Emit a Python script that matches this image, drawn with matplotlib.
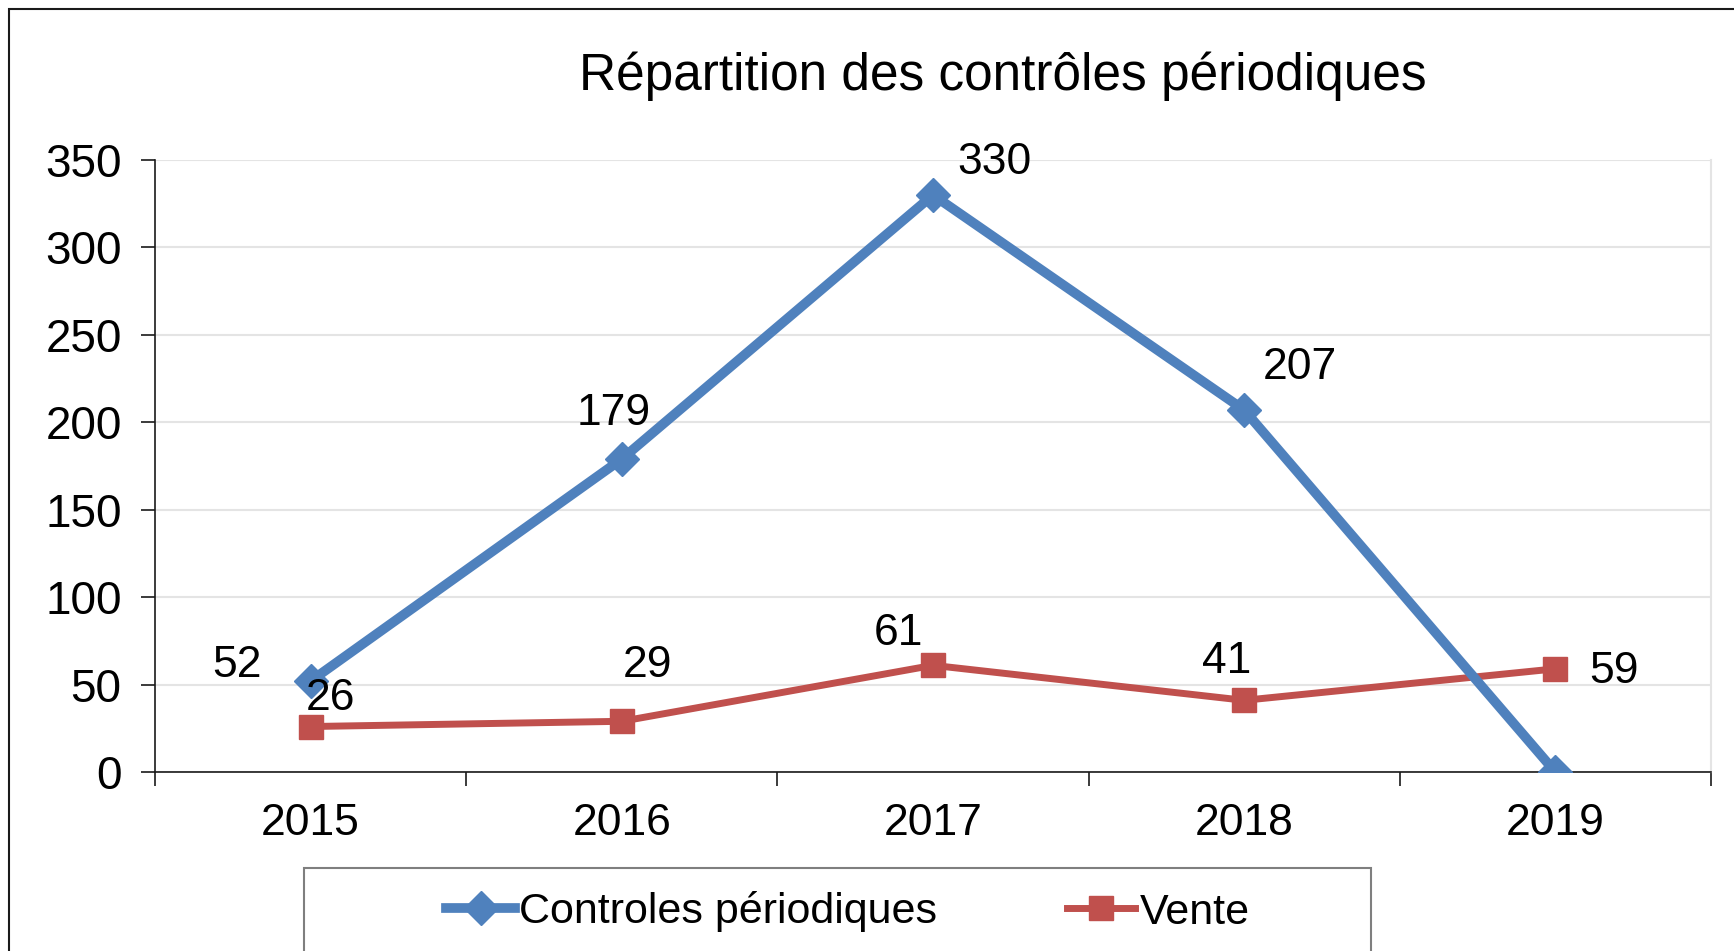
import matplotlib
matplotlib.use("Agg")
import matplotlib.pyplot as plt
from matplotlib.patches import Rectangle
from matplotlib.lines import Line2D

plt.rcParams['font.family'] = ['Liberation Sans', 'DejaVu Sans']

years = ["2015", "2016", "2017", "2018", "2019"]
controles = [52, 179, 330, 207, 0]
vente = [26, 29, 61, 41, 59]
yticks = [0, 50, 100, 150, 200, 250, 300, 350]

# label offsets (pixels) relative to each point; None = no label
controles_offsets = [(-74, 16), (-8, 46), (61, 32), (56, 43), None]
vente_offsets = [(20, 28), (26, 56), (-35, 32), (-18, 39), (59, -3)]

BLUE = "#4F81BD"
RED = "#C0504D"

W, H = 1734, 951
fig = plt.figure(figsize=(W / 100, H / 100), dpi=100)

# outer chart border (left and top edges visible)
fig.patches.append(Rectangle((9 / W, -0.1), 1.2, 1 - 9 / H + 0.1,
                             transform=fig.transFigure, fill=False,
                             edgecolor="#1a1a1a", linewidth=1.5))

ax = fig.add_axes([155 / W, 1 - 772 / H, (1711 - 155) / W, (772 - 160) / H])
x = list(range(len(years)))

ax.plot(x, controles, color=BLUE, linewidth=7, marker="D", markersize=17.5,
        solid_joinstyle="round", solid_capstyle="round", zorder=4,
        label="Controles périodiques")
ax.plot(x, vente, color=RED, linewidth=5, marker="s", markersize=17,
        zorder=3, label="Vente")

for xi, v, off in zip(x, controles, controles_offsets):
    if off is not None:
        ax.annotate(str(v), (xi, v), xytext=off, textcoords="offset pixels",
                    ha="center", va="center", fontsize=32, zorder=5)
for xi, v, off in zip(x, vente, vente_offsets):
    if off is not None:
        ax.annotate(str(v), (xi, v), xytext=off, textcoords="offset pixels",
                    ha="center", va="center", fontsize=32, zorder=5)

ax.set_xlim(-0.5, len(years) - 0.5)
ax.set_ylim(0, 350)
ax.set_yticks(yticks)
ax.set_yticklabels([str(t) for t in yticks], fontsize=33)
ax.set_xticks(x)
ax.set_xticklabels(years, fontsize=32)
ax.set_xticks([i - 0.5 for i in range(len(years) + 1)], minor=True)
ax.tick_params(axis="x", which="major", length=0, pad=22)
ax.tick_params(axis="x", which="minor", length=10, width=1.2, direction="out", color="#1a1a1a")
ax.tick_params(axis="y", length=10, width=1.2, direction="out", pad=14, color="#1a1a1a")

ax.grid(axis="y", color="#E4E4E4", linewidth=1.5)
ax.set_axisbelow(True)
ax.spines["top"].set_visible(False)
ax.spines["right"].set_color("#E4E4E4")
ax.spines["right"].set_linewidth(1.5)
ax.spines["left"].set_color("#1a1a1a")
ax.spines["bottom"].set_color("#1a1a1a")
ax.spines["left"].set_linewidth(1.2)
ax.spines["bottom"].set_linewidth(1.2)

fig.text(1003 / W, 1 - 76 / H, "Répartition des contrôles périodiques",
         ha="center", va="center", fontsize=37)

# legend box
fig.patches.append(Rectangle((304 / W, -0.1), (1371 - 304) / W, 0.1 + (951 - 868) / H,
                             transform=fig.transFigure, fill=False,
                             edgecolor="#7f7f7f", linewidth=1.5))
handles = [Line2D([], [], color=BLUE, linewidth=7, marker="D", markersize=17.5),
           Line2D([], [], color=RED, linewidth=5, marker="s", markersize=17)]
fig.legend(handles, ["Controles périodiques", "Vente"], loc="center",
           bbox_to_anchor=(848 / W, 1 - 912 / H), ncol=2, frameon=False,
           fontsize=31, handlelength=1.6, handletextpad=0.1, columnspacing=3.0)

fig.savefig("out.png", dpi=100)
